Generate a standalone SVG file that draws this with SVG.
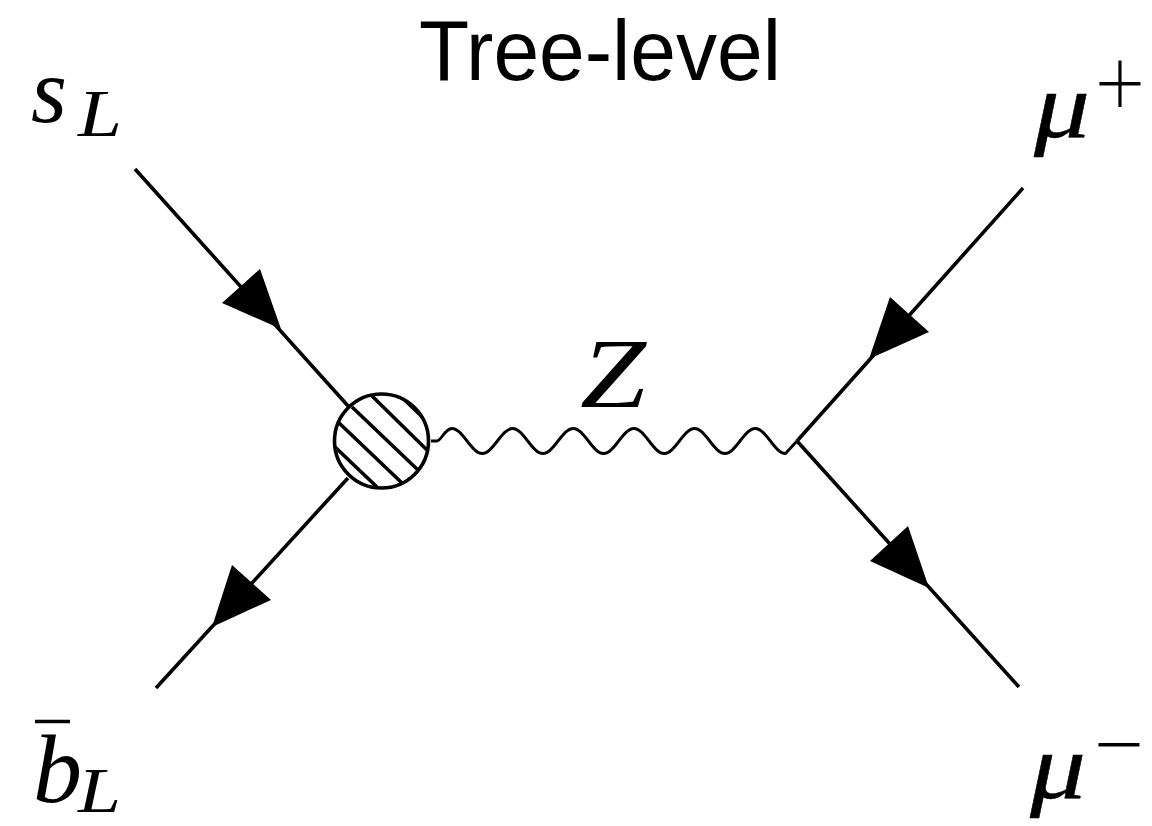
<svg xmlns="http://www.w3.org/2000/svg" width="1152" height="826" viewBox="0 0 1152 826">
<style>
.l{stroke:#000;stroke-width:3.6;fill:none}
.w{stroke:#000;stroke-width:2.9;fill:none;stroke-linejoin:round}
.a{fill:#000;stroke:none}
.t{font-family:"Liberation Sans",Arial,sans-serif;font-size:86px;fill:#000}
.ms{font-family:"Liberation Serif","Times New Roman",serif;font-style:italic;fill:#000}
.sub{font-size:68px}
.mu{stroke:#000;stroke-width:0.5}
.sup{font-family:"Inter","Liberation Serif",sans-serif;font-weight:100;font-size:110px;fill:#000;stroke:#000;stroke-width:1}
</style>
<defs><clipPath id="c"><circle cx="381.5" cy="441" r="47"/></clipPath></defs>
<rect width="1152" height="826" fill="#fff"/>
<g id="title"><text class="t" x="419" y="80" textLength="362" lengthAdjust="spacingAndGlyphs">Tree-level</text></g>
<g id="connectors">
<path class="l" d="M135 169L349 407M348 478L156 688M1023 188L797 441M797 441L1019 687"/>
<path class="w" d="M431 441H437C441 441 445 428.500 451.900 428.500c11 0 19.330 25 30.330 25c11 0 19.330 -25 30.330 -25c11 0 19.330 25 30.330 25c11 0 19.330 -25 30.330 -25c11 0 19.330 25 30.330 25c11 0 19.330 -25 30.330 -25c11 0 19.330 25 30.330 25c11 0 19.330 -25 30.330 -25c11 0 19.330 25 30.330 25c11 0 19.330 -25 30.330 -25c11 0 19.330 25 30.330 25L797 441"/>
<polygon class="a" points="260,269 222,303 281,329"/>
<polygon class="a" points="232,565 271,600 212,627"/>
<polygon class="a" points="869,359 890,297 929,332"/>
<polygon class="a" points="870,561 908,526 929,588"/>
</g>
<g id="blob">
<circle cx="381.500" cy="441" r="47" fill="#fff"/>
<g clip-path="url(#c)"><path class="l" d="M372 396L427 450M352 407L418 470M338 422L402 483M335 447L377 487"/><path d="M397 395L428 425L440 390Z" class="a"/></g>
<circle class="l" cx="381.500" cy="441" r="47"/>
</g>
<g id="s-label"><text class="ms" x="31" y="122" font-size="94" textLength="36" lengthAdjust="spacingAndGlyphs">s</text><text class="ms sub" x="78" y="136" textLength="44" lengthAdjust="spacingAndGlyphs">L</text></g>
<g id="b-label"><text class="ms" x="33" y="802" font-size="98">b</text><path d="M35 721.500H70" stroke="#000" stroke-width="3.400"/><text class="ms" x="78" y="812" font-size="64" textLength="43" lengthAdjust="spacingAndGlyphs">L</text></g>
<g id="mu-plus"><text class="ms mu" x="1034" y="137" font-size="94" textLength="56" lengthAdjust="spacingAndGlyphs">μ</text><text class="sup" x="1089" y="115" textLength="62" lengthAdjust="spacingAndGlyphs">+</text></g>
<g id="mu-minus"><text class="ms mu" x="1030" y="798" font-size="94" textLength="56" lengthAdjust="spacingAndGlyphs">μ</text><text class="sup" x="1088" y="776" textLength="62" lengthAdjust="spacingAndGlyphs">−</text></g>
<g id="z-label"><text class="ms" x="580" y="407" font-size="99" textLength="66" lengthAdjust="spacingAndGlyphs">Z</text></g>
</svg>
